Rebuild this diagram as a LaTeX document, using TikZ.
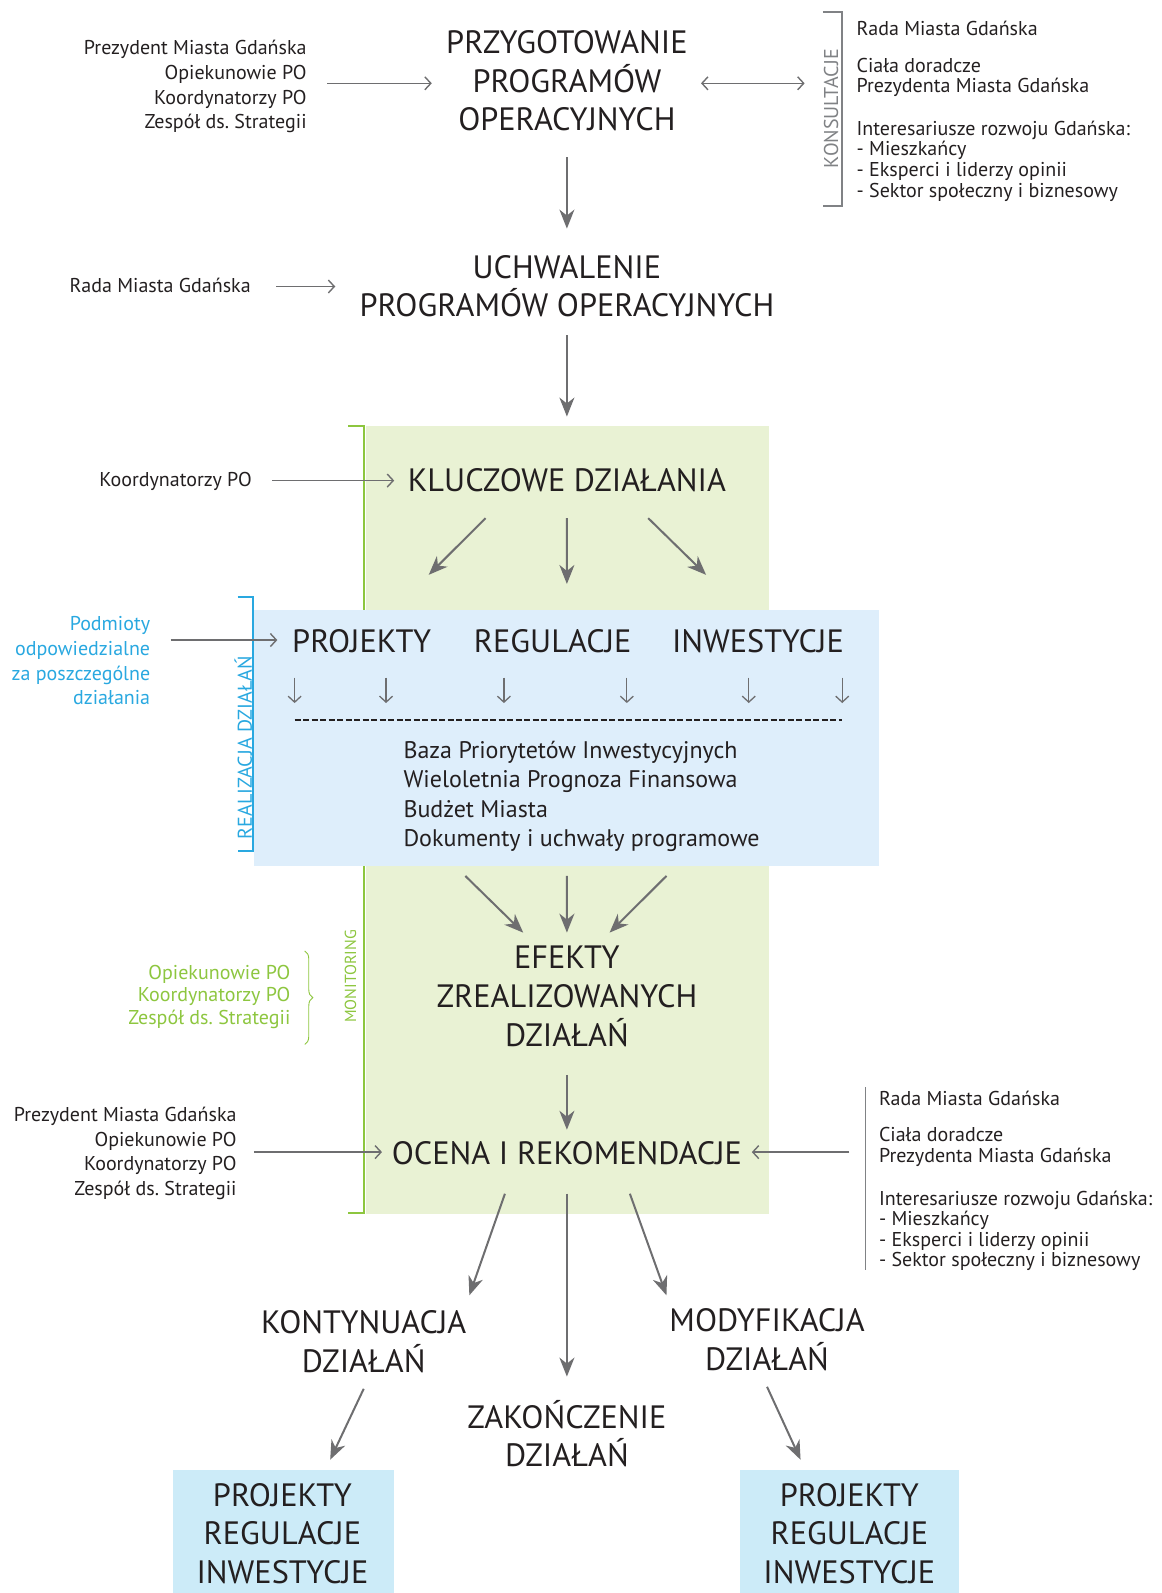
\documentclass[tikz,border=0pt]{standalone}
\usepackage{fontspec}
\setmainfont{PT Sans}
\frenchspacing
\usetikzlibrary{arrows.meta,calc,fit,decorations.pathreplacing}
\definecolor{txt}{RGB}{35,31,32}
\definecolor{arr}{RGB}{110,110,112}
\definecolor{lbl}{RGB}{128,130,133}
\definecolor{grn}{RGB}{141,198,63}
\definecolor{grnfill}{RGB}{233,242,212}
\definecolor{blu}{RGB}{41,168,224}
\definecolor{blufill}{RGB}{222,238,251}
\definecolor{boxfill}{RGB}{204,235,248}
\begin{document}
\frenchspacing
\begin{tikzpicture}[x=1.0157pt,y=-1.0157pt,
  every node/.style={inner sep=0pt,text=txt},
  small/.style={font=\fontsize{20}{24.7}\selectfont},
  tight/.style={font=\fontsize{20}{20.6}\selectfont},
  listf/.style={font=\fontsize{24}{29.5}\selectfont},
  big/.style={font=\fontsize{32.3}{38.6}\selectfont,align=center},
  side/.style={font=\fontsize{20}{20}\selectfont,rotate=90},
  harr/.style={draw=arr,line width=1.4pt,-{Straight Barb[length=6pt,width=13pt]}},
  darr/.style={draw=arr,line width=1.4pt,{Straight Barb[length=6pt,width=13pt]}-{Straight Barb[length=6pt,width=13pt]}},
  mainarr/.style={draw=arr,line width=2pt,-{Stealth[length=19pt,width=15pt,inset=6pt]}},
  tinyarr/.style={draw=arr,line width=1.3pt,-{Straight Barb[length=6pt,width=13pt]}}]
\useasboundingbox (0,0) rectangle (1143,1568);

% backgrounds
\fill[grnfill] (360,419) rectangle (757,1195);
\draw[grn,line width=2pt] (343,419) -- (358,419) -- (358,1194) -- (343,1194);
\node[fit={(250,600) (865,852)},fill=blufill] (bluebox) {};
\draw[blu,line width=2pt] (234,588) -- (249,588) -- (249,838) -- (234,838);
\node[fit={(170,1447) (388,1568)},fill=boxfill] (box1) {};
\node[fit={(728,1447) (944,1568)},fill=boxfill] (box2) {};

% top (base anchor = baseline of last line)
\node[big,anchor=base] (prep) at (558,128.7) {PRZYGOTOWANIE\\PROGRAMÓW\\OPERACYJNYCH};
\node[small,align=right,anchor=base east] (who1) at (302,126.9) {Prezydent Miasta Gdańska\\Opiekunowie PO\\Koordynatorzy PO\\Zespół ds. Strategii};
\draw[lbl,line width=1.5pt] (810,12) -- (829,12) -- (829,203) -- (810,203);
\coordinate (kbr) at (829,82);
\node[side,text=lbl] (konslbl) at (818,107) {KONSULTACJE};
\node[tight,align=left,anchor=base west] (kons) at (843,194) {Rada Miasta Gdańska\\[16pt]Ciała doradcze\\Prezydenta Miasta Gdańska\\[22pt]Interesariusze rozwoju Gdańska:\\- Mieszkańcy\\- Eksperci i liderzy opinii\\- Sektor społeczny i biznesowy};
\draw[harr] ($(who1.base east)+(20,-44.9)$) -- ($(prep.base)+(-133,-46.7)$);
\draw[darr] ($(prep.base)+(132,-46.7)$) -- ($(kbr)+(-37,0)$);

\node[big,anchor=base] (uch) at (558,311.7) {UCHWALENIE\\PROGRAMÓW OPERACYJNYCH};
\node[small,anchor=base east] (rada1) at (247,288) {Rada Miasta Gdańska};
\draw[mainarr] ($(prep.base)+(0,26.3)$) -- ($(uch.base)+(0,-86.7)$);
\draw[harr] ($(rada1.base east)+(25,-6)$) -- ($(uch.base)+(-228,-29.7)$);

\node[big,anchor=base] (klucz) at (558,484) {KLUCZOWE DZIAŁANIA};
\node[small,anchor=base east] (koord) at (248,479) {Koordynatorzy PO};
\draw[mainarr] ($(uch.base)+(0,18.3)$) -- ($(klucz.base)+(0,-74)$);
\draw[harr] ($(koord.base east)+(20,-6)$) -- ($(klucz.base)+(-170,-11)$);
\draw[mainarr] ($(klucz.base)+(-80,26)$) -- ($(bluebox.north)+(-135.5,-34)$);
\draw[mainarr] ($(klucz.base)+(0,26)$) -- ($(bluebox.north)+(0.5,-25)$);
\draw[mainarr] ($(klucz.base)+(80,26)$) -- ($(bluebox.north)+(137.5,-34)$);

% realizacja
\node[side,text=blu,font=\fontsize{20}{20}\selectfont] (reallbl) at (239.5,736) {REALIZACJA DZIAŁAŃ};
\node[small,align=right,anchor=base east,text=blu] (podm) at (148,693.9) {Podmioty\\odpowiedzialne\\za poszczególne\\działania};
\node[big,anchor=base] (proj) at (356,642) {PROJEKTY};
\node[big,anchor=base] (reg) at (544,642) {REGULACJE};
\node[big,anchor=base] (inw) at (746,642) {INWESTYCJE};
\draw[harr] ($(podm.base east)+(20,-63.9)$) -- ($(proj.base)+(-83,-12)$);
\foreach \x in {290,380,496,617,737,829} \draw[tinyarr] (\x,667) -- (\x,692);
\draw[txt,line width=1.8pt,dash pattern=on 6pt off 2.5pt] (290,709) -- (829,709);
\node[listf,align=left,anchor=base west] (list) at (397,833.5) {Baza Priorytetów Inwestycyjnych\\Wieloletnia Prognoza Finansowa\\Budżet Miasta\\Dokumenty i uchwały programowe};

% efekty
\node[big,anchor=base] (efekty) at (558,1029.7) {EFEKTY\\ZREALIZOWANYCH\\DZIAŁAŃ};
\draw[mainarr] ($(bluebox.south)+(-99.5,10)$) -- ($(efekty.base)+(-43,-111.7)$);
\draw[mainarr] ($(bluebox.south)+(0.5,10)$) -- ($(efekty.base)+(0,-111.7)$);
\draw[mainarr] ($(bluebox.south)+(98.5,10)$) -- ($(efekty.base)+(42,-111.7)$);
\node[side,text=grn,font=\fontsize{16}{16}\selectfont] (monlbl) at (345,961) {MONITORING};
\node[small,align=right,anchor=base east,text=grn,font=\fontsize{20}{22.6}\selectfont] (mon) at (286,1008.5) {Opiekunowie PO\\Koordynatorzy PO\\Zespół ds. Strategii};
\draw[grn,line width=0.9pt,decorate,decoration={brace,amplitude=8pt}] (300,936) -- (300,1028);

% ocena
\node[big,anchor=base] (ocena) at (558,1146) {OCENA I REKOMENDACJE};
\draw[mainarr] ($(efekty.base)+(0,28.3)$) -- ($(ocena.base)+(0,-34)$);
\node[small,align=right,anchor=base east] (who2) at (233,1176.9) {Prezydent Miasta Gdańska\\Opiekunowie PO\\Koordynatorzy PO\\Zespół ds. Strategii};
\draw[harr] ($(who2.base east)+(17,-42.9)$) -- ($(ocena.base)+(-182,-12)$);
\draw[lbl,line width=1.3pt] (852,1070) -- (852,1250);
\coordinate (k2line) at (852,1134);
\node[tight,align=left,anchor=base west] (kons2) at (865,1247) {Rada Miasta Gdańska\\[16pt]Ciała doradcze\\Prezydenta Miasta Gdańska\\[22pt]Interesariusze rozwoju Gdańska:\\- Mieszkańcy\\- Eksperci i liderzy opinii\\- Sektor społeczny i biznesowy};
\draw[harr] ($(k2line)+(-16,0)$) -- ($(ocena.base)+(182,-12)$);

% outcomes
\node[big,anchor=base] (kont) at (358,1350.7) {KONTYNUACJA\\DZIAŁAŃ};
\node[big,anchor=base] (mody) at (755,1348.7) {MODYFIKACJA\\DZIAŁAŃ};
\node[big,anchor=base] (zak) at (558,1443.7) {ZAKOŃCZENIE\\DZIAŁAŃ};
\draw[mainarr] ($(ocena.base)+(-61,29)$) -- ($(kont.base)+(104,-75.7)$);
\draw[mainarr] ($(ocena.base)+(0,29)$) -- ($(zak.base)+(0,-88.7)$);
\draw[mainarr] ($(ocena.base)+(62,29)$) -- ($(mody.base)+(-99,-73.7)$);
\draw[mainarr] ($(kont.base)+(0,16.3)$) -- ($(box1.north)+(46,-10)$);
\draw[mainarr] ($(mody.base)+(0,16.3)$) -- ($(box2.north)+(-48,-10)$);
\node[big,anchor=base] (b1t) at (278,1558.7) {PROJEKTY\\REGULACJE\\INWESTYCJE};
\node[big,anchor=base] (b2t) at (836,1558.7) {PROJEKTY\\REGULACJE\\INWESTYCJE};
\end{tikzpicture}
\end{document}
